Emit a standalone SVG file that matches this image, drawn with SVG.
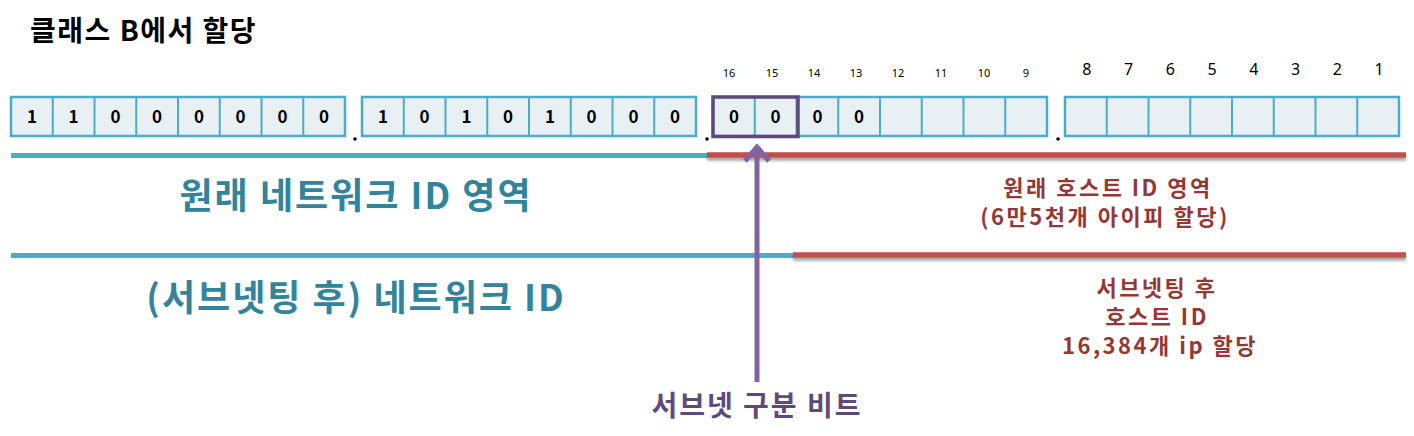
<svg xmlns="http://www.w3.org/2000/svg" width="1414" height="436" viewBox="0 0 1414 436">
<defs>
<style>
text{font-family:"Noto Sans CJK KR","Noto Sans",sans-serif;font-weight:bold}
.cell{fill:#E9F0F4;stroke:#4BACC6;stroke-width:2.5}
.sep{stroke:#4BACC6;stroke-width:2}
.bit{font-size:17px;fill:#000;text-anchor:middle}
.num{font-family:"Noto Sans","Liberation Sans",sans-serif;font-weight:normal;font-size:11px;fill:#000;text-anchor:middle}
.num2{font-family:"Noto Sans","Liberation Sans",sans-serif;font-weight:normal;font-size:16px;fill:#000;text-anchor:middle}
.teal{stroke:#4BACC6;stroke-width:5}
.red{stroke:#C0504D;stroke-width:5.5}
.tealtxt{font-size:36px;fill:#31849B;text-anchor:middle;letter-spacing:2px}
.redtxt{font-size:22px;fill:#953735;text-anchor:middle;letter-spacing:2.5px}
</style>
<filter id="sh" filterUnits="userSpaceOnUse" x="0" y="0" width="1414" height="436">
<feGaussianBlur in="SourceAlpha" stdDeviation="1.5"/>
<feOffset dy="3"/>
<feComponentTransfer><feFuncA type="linear" slope="0.35"/></feComponentTransfer>
<feMerge><feMergeNode/><feMergeNode in="SourceGraphic"/></feMerge>
</filter>
</defs>
<rect width="1414" height="436" fill="#fff"/>
<g id="title"><text x="30" y="41" font-size="28" fill="#000" letter-spacing="1.5">클래스 B에서 할당</text></g>

<g id="octet1">
<rect class="cell" x="11" y="97" width="334" height="39"/>
<path class="sep" d="M52.75 97V136M94.5 97V136M136.25 97V136M178 97V136M219.75 97V136M261.5 97V136M303.25 97V136"/>
<text class="bit" x="31.9" y="123">1</text><text class="bit" x="73.6" y="123">1</text><text class="bit" x="115.4" y="123">0</text><text class="bit" x="157.1" y="123">0</text><text class="bit" x="198.9" y="123">0</text><text class="bit" x="240.6" y="123">0</text><text class="bit" x="282.4" y="123">0</text><text class="bit" x="324.1" y="123">0</text>
</g>
<g id="octet2">
<rect class="cell" x="362" y="97" width="334" height="39"/>
<path class="sep" d="M403.75 97V136M445.5 97V136M487.25 97V136M529 97V136M570.75 97V136M612.5 97V136M654.25 97V136"/>
<text class="bit" x="382.9" y="123">1</text><text class="bit" x="424.6" y="123">0</text><text class="bit" x="466.4" y="123">1</text><text class="bit" x="508.1" y="123">0</text><text class="bit" x="549.9" y="123">1</text><text class="bit" x="591.6" y="123">0</text><text class="bit" x="633.4" y="123">0</text><text class="bit" x="675.1" y="123">0</text>
</g>
<g id="octet3">
<rect class="cell" x="713" y="97" width="334" height="39"/>
<path class="sep" d="M754.75 97V136M796.5 97V136M838.25 97V136M880 97V136M921.75 97V136M963.5 97V136M1005.25 97V136"/>
<text class="bit" x="733.9" y="123">0</text><text class="bit" x="775.6" y="123">0</text><text class="bit" x="817.4" y="123">0</text><text class="bit" x="859.1" y="123">0</text>
<text class="num" x="729" y="77">16</text><text class="num" x="772" y="77">15</text><text class="num" x="814" y="77">14</text><text class="num" x="856" y="77">13</text><text class="num" x="898" y="77">12</text><text class="num" x="941" y="77">11</text><text class="num" x="984" y="77">10</text><text class="num" x="1026" y="77">9</text>
</g>
<g id="octet4">
<rect class="cell" x="1065" y="97" width="334" height="39"/>
<path class="sep" d="M1106.75 97V136M1148.5 97V136M1190.25 97V136M1232 97V136M1273.75 97V136M1315.5 97V136M1357.25 97V136"/>
<text class="num2" x="1086.9" y="75">8</text><text class="num2" x="1128.6" y="75">7</text><text class="num2" x="1170.4" y="75">6</text><text class="num2" x="1212.1" y="75">5</text><text class="num2" x="1253.9" y="75">4</text><text class="num2" x="1295.6" y="75">3</text><text class="num2" x="1337.4" y="75">2</text><text class="num2" x="1379.1" y="75">1</text>
</g>
<g id="dots" fill="#000">
<circle cx="355" cy="139" r="1.8"/><circle cx="707" cy="139" r="1.8"/><circle cx="1058" cy="139" r="1.8"/>
</g>
<g id="subnet-bits"><rect x="713" y="97" width="85" height="39.5" fill="none" stroke="#5F497A" stroke-width="3.5"/></g>

<g id="connectors">
<line class="teal" x1="11" y1="155.5" x2="708" y2="155.5"/>
<line class="red" x1="707" y1="155" x2="1406" y2="155" filter="url(#sh)"/>
<line class="teal" x1="11" y1="255.5" x2="794" y2="255.5"/>
<line class="red" x1="793" y1="255" x2="1406" y2="255" filter="url(#sh)"/>
<line x1="757" y1="382" x2="757" y2="148" stroke="#8064A2" stroke-width="5"/>
<polyline points="745,161 757,147 769,161" fill="none" stroke="#8064A2" stroke-width="5" stroke-linejoin="miter"/>
</g>

<g id="net-orig"><text class="tealtxt" x="356" y="209">원래 네트워크 ID 영역</text></g>
<g id="net-sub"><text class="tealtxt" x="356" y="311">(서브넷팅 후) 네트워크 ID</text></g>
<g id="host-orig"><text class="redtxt" x="1108" y="196">원래 호스트 ID 영역</text><text class="redtxt" x="1105" y="225">(6만5천개 아이피 할당)</text></g>
<g id="host-sub"><text class="redtxt" x="1157" y="296">서브넷팅 후</text><text class="redtxt" x="1157" y="325">호스트 ID</text><text class="redtxt" x="1160" y="354">16,384개 ip 할당</text></g>
<g id="subnet-label"><text x="757" y="416" font-size="28" fill="#5F497A" text-anchor="middle" letter-spacing="2">서브넷 구분 비트</text></g>
</svg>
